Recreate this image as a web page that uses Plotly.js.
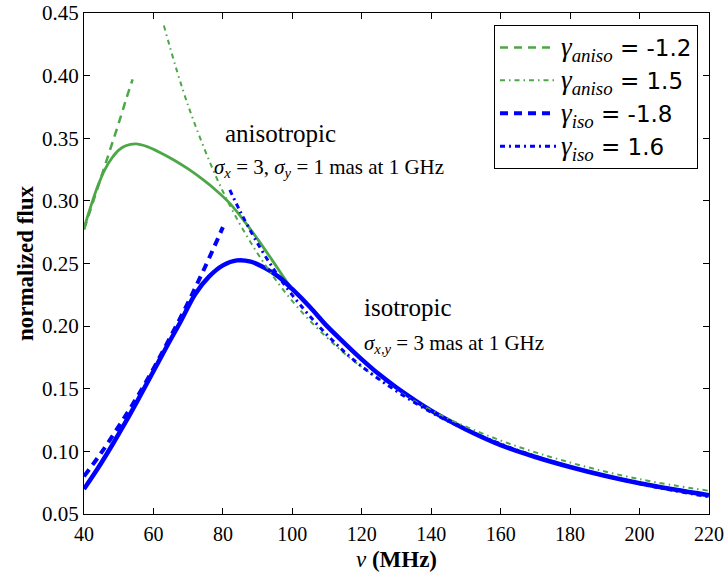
<!DOCTYPE html>
<html>
<head>
<meta charset="utf-8">
<script src="https://cdn.plot.ly/plotly-3.0.1.min.js"></script>
<style>html,body{margin:0;padding:0;background:#fff;}#chart{width:726px;height:572px;}</style>
</head>
<body>
<div id="chart"></div>
<script>
// Frequencies (MHz) and normalized flux values
var nuAniso = [40, 42, 44, 46, 48, 50, 52, 55, 58, 62, 66, 70, 74, 78, 82, 86, 90, 94, 98, 100, 105, 110, 115, 120, 125, 130, 140, 150, 160, 170, 180, 190, 200, 210, 220];
var fluxAniso = [0.278, 0.296, 0.312, 0.325, 0.334, 0.3405, 0.344, 0.3455, 0.3435, 0.3385, 0.3325, 0.3255, 0.3175, 0.3085, 0.298, 0.2845, 0.2695, 0.2535, 0.237, 0.2295, 0.2155, 0.200, 0.1865, 0.1735, 0.1615, 0.151, 0.1325, 0.1175, 0.105, 0.0955, 0.0875, 0.0805, 0.0745, 0.0695, 0.065];

var nuIso = [40, 44, 48, 52, 56, 60, 64, 68, 72, 76, 80, 84, 88, 92, 96, 100, 105, 110, 115, 120, 125, 130, 140, 150, 160, 170, 180, 190, 200, 210, 220];
var fluxIso = [0.070, 0.0865, 0.1045, 0.1235, 0.1435, 0.164, 0.1845, 0.2045, 0.2255, 0.2395, 0.2485, 0.2525, 0.2515, 0.2465, 0.2395, 0.2295, 0.2155, 0.200, 0.1865, 0.1735, 0.1615, 0.151, 0.1325, 0.1175, 0.105, 0.0955, 0.0875, 0.0805, 0.0745, 0.0695, 0.065];

// Power-law asymptotes
var nuAnisoLow = [40, 42, 44, 46, 48, 50, 52, 54];
var fluxAnisoLow = [0.277, 0.294, 0.311, 0.328, 0.345, 0.362, 0.380, 0.397];

var nuAnisoHigh = [63, 70, 80, 90, 100, 110, 120, 140, 160, 180, 200, 220];
var fluxAnisoHigh = [0.440, 0.376, 0.3075, 0.258, 0.220, 0.1907, 0.1674, 0.1328, 0.1087, 0.0911, 0.0778, 0.0685];

var nuIsoLow = [40, 45, 50, 55, 60, 65, 70, 75, 80];
var fluxIsoLow = [0.080, 0.099, 0.120, 0.142, 0.166, 0.192, 0.219, 0.248, 0.279];

var nuIsoHigh = [82, 85, 90, 95, 100, 110, 120, 140, 160, 180, 200, 220];
var fluxIsoHigh = [0.3087, 0.2915, 0.266, 0.244, 0.2247, 0.193, 0.1678, 0.1312, 0.1059, 0.0877, 0.0741, 0.0637];

var gStyle = 'font-family:\'Liberation Serif\';font-size:27px';
var legendNames = [
  '<span style="' + gStyle + '"><i>γ</i><sub><i>aniso</i></sub></span> = -1.2',
  '<span style="' + gStyle + '"><i>γ</i><sub><i>aniso</i></sub></span> = 1.5',
  '<span style="' + gStyle + '"><i>γ</i><sub><i>iso</i></sub></span> = -1.8',
  '<span style="' + gStyle + '"><i>γ</i><sub><i>iso</i></sub></span> = 1.6'
];

var green = '#4ca847';
var blue = '#0000ff';

var traces = [
  {x: nuAniso, y: fluxAniso, mode: 'lines', line: {color: green, width: 2.8, shape: 'spline', smoothing: 1}, showlegend: false, hoverinfo: 'skip'},
  {x: nuIso, y: fluxIso, mode: 'lines', line: {color: blue, width: 4.5, shape: 'spline', smoothing: 1}, showlegend: false, hoverinfo: 'skip'},
  {x: nuAnisoLow, y: fluxAnisoLow, mode: 'lines', name: legendNames[0], legendgroup: 'a', line: {color: green, width: 2.5, dash: '8px,6px', shape: 'spline'}},
  {x: nuAnisoHigh, y: fluxAnisoHigh, mode: 'lines', name: legendNames[1], legendgroup: 'b', line: {color: green, width: 2, dash: '5px,4px,1.5px,4px', shape: 'spline'}},
  {x: nuIsoLow, y: fluxIsoLow, mode: 'lines', name: legendNames[2], legendgroup: 'c', line: {color: blue, width: 4, dash: '8px,6px', shape: 'spline'}},
  {x: nuIsoHigh, y: fluxIsoHigh, mode: 'lines', name: legendNames[3], legendgroup: 'd', line: {color: blue, width: 3, dash: '5px,4px,2px,4px', shape: 'spline'}}
];

var serif = 'Liberation Serif, DejaVu Serif, serif';

var layout = {
  width: 726, height: 572,
  margin: {l: 84, r: 17, t: 13, b: 58},
  paper_bgcolor: '#fff', plot_bgcolor: '#fff',
  font: {family: serif, color: '#000', size: 19},
  showlegend: true,
  legend: {
    x: 0.9824, xanchor: 'right', y: 0.976, yanchor: 'top',
    bordercolor: '#000', borderwidth: 1, bgcolor: '#fff',
    font: {family: 'DejaVu Sans, sans-serif', size: 23, color: '#000'},
    tracegroupgap: 0, itemwidth: 56
  },
  xaxis: {
    range: [40, 220], tickvals: [40, 60, 80, 100, 120, 140, 160, 180, 200, 220],
    ticktext: ['40', '60', '80', '100', '120', '140', '160', '180', '200', '220'],
    showgrid: false, zeroline: false, showline: true, mirror: 'ticks',
    linecolor: '#000', linewidth: 1, ticks: 'inside', ticklen: 6, tickcolor: '#000',
    tickfont: {family: serif, size: 20}, ticklabelstandoff: 2,
    title: {text: '<i>ν</i> <b>(MHz)</b>', font: {family: serif, size: 23}, standoff: 7}
  },
  yaxis: {
    range: [0.05, 0.45], tickvals: [0.05, 0.10, 0.15, 0.20, 0.25, 0.30, 0.35, 0.40, 0.45],
    ticktext: ['0.05', '0.10', '0.15', '0.20', '0.25', '0.30', '0.35', '0.40', '0.45'],
    showgrid: false, zeroline: false, showline: true, mirror: 'ticks',
    linecolor: '#000', linewidth: 1, ticks: 'inside', ticklen: 6, tickcolor: '#000',
    tickfont: {family: serif, size: 21},
    title: {text: '<b>normalized flux</b>', font: {family: serif, size: 23}, standoff: 1}
  },
  annotations: [
    {x: 80, y: 0.354, xref: 'x', yref: 'y', xanchor: 'left', yanchor: 'middle', showarrow: false,
     text: 'anisotropic', font: {family: serif, size: 25}},
    {x: 76.9, y: 0.3262, xref: 'x', yref: 'y', xanchor: 'left', yanchor: 'middle', showarrow: false,
     text: '<i>σ</i><sub><i>x</i></sub> = 3, <i>σ</i><sub><i>y</i></sub> = 1 mas at 1 GHz', font: {family: serif, size: 21}},
    {x: 120.1, y: 0.2147, xref: 'x', yref: 'y', xanchor: 'left', yanchor: 'middle', showarrow: false,
     text: 'isotropic', font: {family: serif, size: 25}},
    {x: 120.1, y: 0.1857, xref: 'x', yref: 'y', xanchor: 'left', yanchor: 'middle', showarrow: false,
     text: '<i>σ</i><sub><i>x,y</i></sub> = 3 mas at 1 GHz', font: {family: serif, size: 21}}
  ]
};

Plotly.newPlot('chart', traces, layout, {staticPlot: true, displayModeBar: false});
</script>
</body>
</html>
